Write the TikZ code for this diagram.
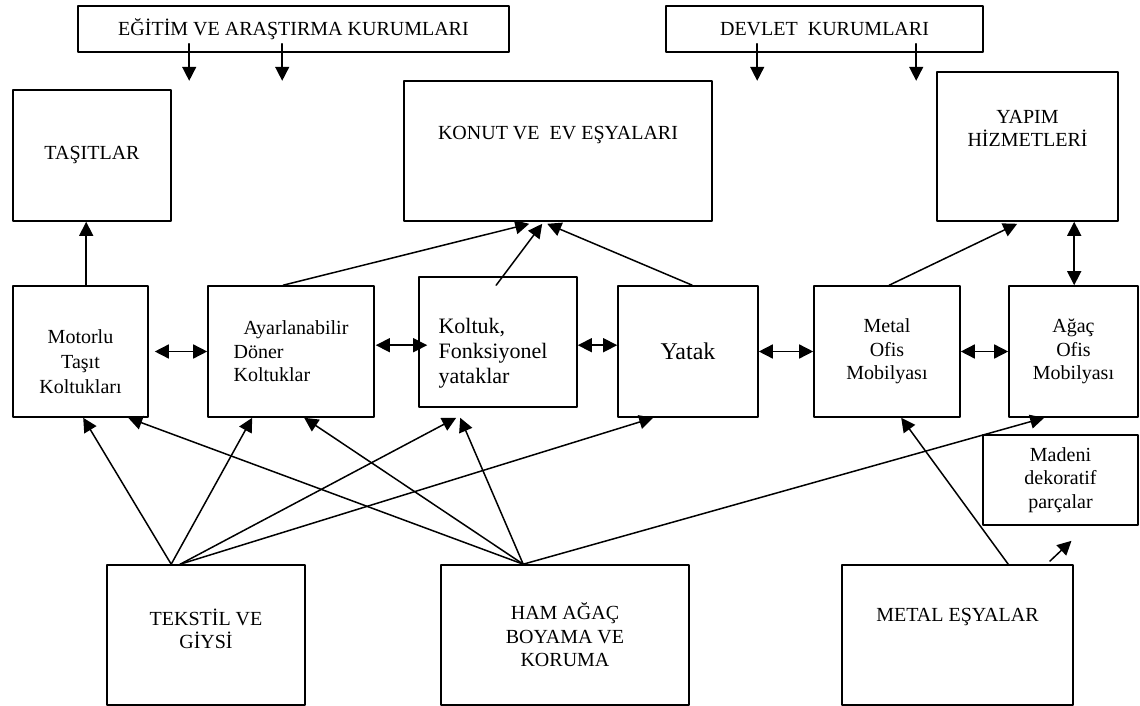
\documentclass[tikz,border=0pt]{standalone}
\usepackage{fontspec}
\setmainfont{Liberation Serif}
\usetikzlibrary{arrows.meta,calc}

\begin{document}
\begin{tikzpicture}[line cap=round,line join=round,x=0.5pt,y=-0.5pt,
    >={Triangle[length=7pt,width=7pt]},
    box/.style={draw,line width=0.8pt,inner sep=0pt,align=center,font=\fontsize{10}{11.75}\selectfont},
    txt/.style={align=center,font=\fontsize{10}{11.75}\selectfont},
    con/.style={line width=0.75pt}]

    \useasboundingbox (0,0) rectangle (1140,706);

    % kurumlar
    \node[box,minimum width=215.5pt,minimum height=23pt] (egitim) at (293.5,29) {EĞİTİM VE ARAŞTIRMA KURUMLARI};
    \node[box,minimum width=158.5pt,minimum height=23pt] (devlet) at (824.5,29) {DEVLET~~KURUMLARI};

    % ust sira
    \node[box,minimum width=79pt,minimum height=65.5pt] (tasit) at (92,155.5) {TAŞITLAR};
    \node[box,minimum width=154pt,minimum height=70pt,label={[txt,yshift=8pt]center:{KONUT VE~~EV EŞYALARI}}] (konut) at (558,151) {};
    \node[box,minimum width=90.5pt,minimum height=74.5pt,label={[txt,yshift=9pt]center:{YAPIM\\HİZMETLERİ}}] (yapim) at (1027.5,146.5) {};

    % orta sira
    \node[box,minimum width=67.5pt,minimum height=65.5pt,label={[txt,font=\fontsize{10}{12.5}\selectfont,yshift=-5pt]center:{Motorlu\\Taşıt\\Koltukları}}] (motorlu) at (80.5,351.5) {};
    \node[box,align=left,minimum width=83pt,minimum height=65.5pt] (ayar) at (291,351.5) {\hspace*{5pt}Ayarlanabilir\\Döner\\Koltuklar};
    \node[box,minimum width=79pt,minimum height=65pt,label={[txt,align=left,font=\fontsize{11}{12.5}\selectfont,xshift=-2.5pt,yshift=-5.5pt]center:{Koltuk,\\Fonksiyonel\\yataklar}}] (koltuk) at (498,342) {};
    \node[box,font=\fontsize{12}{14}\selectfont,minimum width=70pt,minimum height=65.5pt] (yatak) at (688,351.5) {Yatak};
    \node[box,minimum width=73pt,minimum height=65.5pt] (metofis) at (887,351.5) {Metal\\Ofis\\Mobilyası};
    \node[box,minimum width=64.5pt,minimum height=65.5pt] (agac) at (1073.5,351.5) {Ağaç\\Ofis\\Mobilyası};
    \node[box,minimum width=77.5pt,minimum height=45pt] (madeni) at (1060.5,480) {Madeni\\dekoratif\\parçalar};

    % alt sira
    \node[box,minimum width=99pt,minimum height=70pt,label={[txt,yshift=3pt]center:{TEKSTİL VE\\GİYSİ}}] (tekstil) at (206,635) {};
    \node[box,minimum width=124pt,minimum height=70pt] (ham) at (565,635) {HAM AĞAÇ\\BOYAMA VE\\KORUMA};
    \node[box,minimum width=115.5pt,minimum height=70pt,label={[txt,yshift=9pt]center:{METAL EŞYALAR}}] (metesya) at (957.5,635) {};

    % kurum oklari
    \coordinate (e1) at ($(egitim.south west)+(112,28)$);
    \coordinate (e2) at ($(egitim.south west)+(205,28)$);
    \coordinate (d1) at ($(devlet.south west)+(92,28)$);
    \coordinate (d2) at ($(devlet.south west)+(251,28)$);
    \draw[con,->] ($(egitim.south west)+(112,-9)$) -- (e1);
    \draw[con,->] ($(egitim.south west)+(205,-9)$) -- (e2);
    \draw[con,->] ($(devlet.south west)+(92,-9)$) -- (d1);
    \draw[con,->] ($(devlet.south west)+(251,-9)$) -- (d2);

    % yukari oklar
    \draw[con,->] ($(motorlu.north west)+(74,0)$) -- ($(tasit.south west)+(74,0)$);
    \draw[con,->] ($(ayar.north west)+(76,0)$) -- ($(konut.south west)+(126,2)$);
    \draw[con,->] ($(koltuk.north west)+(78,9)$) -- ($(konut.south west)+(139,2)$);
    \draw[con,->] ($(yatak.north west)+(75,0)$) -- ($(konut.south west)+(144,2)$);
    \draw[con,->] ($(metofis.north west)+(76,0)$) -- ($(yapim.south west)+(81,2)$);
    \draw[con,<->] ($(yapim.south west)+(138,0)$) -- ($(agac.north west)+(66,0)$);

    % yatay oklar
    \draw[con,<->] ([xshift=3pt]motorlu.east) -- (ayar.west);
    \draw[con,<->] ($(ayar.north east)+(1,60)$) -- ($(koltuk.north west)+(9,69)$);
    \draw[con,<->] ($(koltuk.north east)+(0,69)$) -- ($(yatak.north west)+(0,60)$);
    \draw[con,<->] (yatak.east) -- (metofis.west);
    \draw[con,<->] (metofis.east) -- (agac.west);

    % alttan gelen oklar
    \coordinate (ta) at ($(tekstil.north west)+(65,0)$);
    \coordinate (tb) at ($(tekstil.north west)+(74,0)$);
    \coordinate (ha) at ($(ham.north west)+(83,0)$);
    \coordinate (ma) at ($(metesya.north west)+(167,0)$);
    \draw[con,->] (ta) -- ($(motorlu.south west)+(71,0)$);
    \draw[con,->] (ta) -- ($(ayar.south west)+(45,0)$);
    \draw[con,->] (tb) -- ($(koltuk.south west)+(38,10)$);
    \draw[con,->] (tb) -- ($(yatak.south west)+(36,0)$);
    \draw[con,->] (ha) -- ($(motorlu.south west)+(116,0)$);
    \draw[con,->] (ha) -- ($(ayar.south west)+(97,0)$);
    \draw[con,->] (ha) -- ($(koltuk.south west)+(42,10)$);
    \draw[con,->] (ha) -- ($(agac.south west)+(36,0)$);
    \draw[con,->] (ma) -- ($(metofis.south west)+(88,0)$);
    \coordinate (md) at ($(madeni.south)+(11,15)$);
    \draw[con,->] ($(metesya.north east)+(-24,-3)$) -- (md);
\end{tikzpicture}
\end{document}
